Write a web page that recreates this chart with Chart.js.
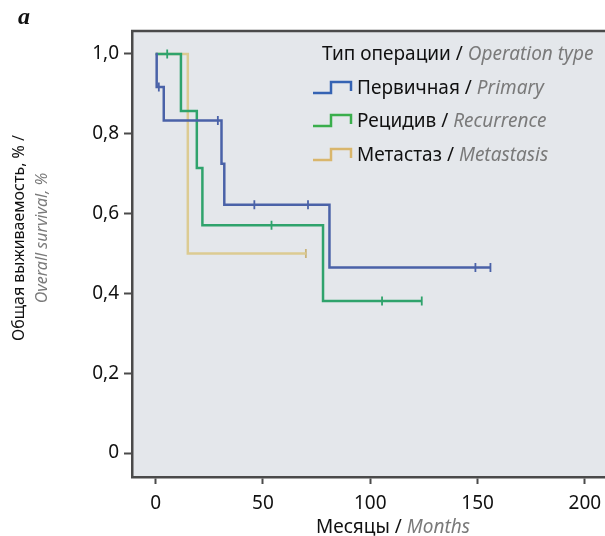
<!DOCTYPE html>
<html>
<head>
<meta charset="utf-8">
<script src="https://cdn.jsdelivr.net/npm/chart.js@4"></script>
<style>
  html, body { margin: 0; padding: 0; background: #fff; overflow: hidden; }
  /* область графика уходит за правый край окна, как на оригинале */
  #wrap { width: 700px; height: 536px; }
</style>
</head>
<body>
<div id="wrap"><canvas id="survivalChart"></canvas></div>
<script>
// Кривые Каплана-Мейера (месяцы / доля выживших)
const primaryTime = [0, 0.5, 3.8, 30.7, 32, 81, 156];
const primarySurv = [1.0, 0.917, 0.833, 0.725, 0.622, 0.465, 0.465];
const primaryCensorTime = [1.5, 29, 46, 71, 149, 156];
const primaryCensorSurv = [0.917, 0.833, 0.622, 0.622, 0.465, 0.465];

const recurrenceTime = [0, 11.8, 19.2, 21.8, 78, 124];
const recurrenceSurv = [1.0, 0.857, 0.714, 0.571, 0.381, 0.381];
const recurrenceCensorTime = [5.4, 54, 105.5, 124];
const recurrenceCensorSurv = [1.0, 0.571, 0.381, 0.381];

const metastasisTime = [0, 15, 70];
const metastasisSurv = [1.0, 0.5, 0.5];
const metastasisCensorTime = [70];
const metastasisCensorSurv = [0.5];

// Оси
const xTickValues = [0, 50, 100, 150, 200];
const yTickValues = [0, 0.2, 0.4, 0.6, 0.8, 1.0];
const yTickLabels = ['0', '0,2', '0,4', '0,6', '0,8', '1,0'];

const FONT = '"Noto Sans", sans-serif';
const AXIS_COLOR = '#4a4a4a';
const GRAY_TEXT = '#7a7a7a';

function toPoints(xs, ys) {
    return xs.map((x, i) => ({ x: x, y: ys[i] }));
}

function curve(label, xs, ys, color) {
    return {
        label: label,
        data: toPoints(xs, ys),
        borderColor: color,
        borderWidth: 2.5,
        stepped: 'before',
        pointRadius: 0,
        fill: false
    };
}

function censors(label, xs, ys, color) {
    return {
        label: label,
        data: toPoints(xs, ys),
        showLine: false,
        borderColor: color,
        backgroundColor: color,
        borderWidth: 1.8,
        pointStyle: 'line',
        rotation: 90,
        pointRadius: 4.5
    };
}

// Текст из нескольких кусков разного стиля
function drawRuns(ctx, runs, x, y, align) {
    let total = 0;
    runs.forEach(r => { ctx.font = r.font; total += ctx.measureText(r.text).width; });
    let cx = align === 'center' ? x - total / 2 : x;
    ctx.textAlign = 'left';
    ctx.textBaseline = 'alphabetic';
    runs.forEach(r => {
        ctx.font = r.font;
        ctx.fillStyle = r.color;
        ctx.fillText(r.text, cx, y);
        cx += ctx.measureText(r.text).width;
    });
}

const legendItems = [
    { ru: 'Первичная / ', en: 'Primary', color: '#3563b3', y: 94 },
    { ru: 'Рецидив / ', en: 'Recurrence', color: '#3aae4c', y: 127 },
    { ru: 'Метастаз / ', en: 'Metastasis', color: '#d9b66c', y: 161 }
];

const decorPlugin = {
    id: 'decor',
    beforeDraw(chart) {
        const ctx = chart.ctx;
        const a = chart.chartArea;
        ctx.save();
        ctx.fillStyle = '#e4e7eb';
        ctx.fillRect(a.left, a.top, a.right - a.left, a.bottom - a.top);
        ctx.restore();
    },
    afterDraw(chart) {
        const ctx = chart.ctx;
        const a = chart.chartArea;
        ctx.save();

        // верхняя рамка
        ctx.strokeStyle = AXIS_COLOR;
        ctx.lineWidth = 2.5;
        ctx.beginPath();
        ctx.moveTo(a.left - 1, a.top);
        ctx.lineTo(a.right, a.top);
        ctx.stroke();

        // буква панели
        ctx.fillStyle = '#111';
        ctx.font = 'italic bold 24px "Liberation Serif", "DejaVu Serif", serif';
        ctx.textBaseline = 'alphabetic';
        ctx.fillText('a', 18, 24);

        // подпись оси X
        drawRuns(ctx, [
            { text: 'Месяцы / ', font: '19px ' + FONT, color: '#111' },
            { text: 'Months', font: 'italic 19px ' + FONT, color: GRAY_TEXT }
        ], 393, 533, 'center');

        // подпись оси Y
        ctx.save();
        ctx.translate(24, 238);
        ctx.rotate(-Math.PI / 2);
        drawRuns(ctx, [
            { text: 'Общая выживаемость, % /', font: '16px ' + FONT, color: '#111' }
        ], 0, 0, 'center');
        ctx.restore();
        ctx.save();
        ctx.translate(47, 238);
        ctx.rotate(-Math.PI / 2);
        drawRuns(ctx, [
            { text: 'Overall survival, %', font: 'italic 16px ' + FONT, color: GRAY_TEXT }
        ], 0, 0, 'center');
        ctx.restore();

        // легенда
        drawRuns(ctx, [
            { text: 'Тип операции / ', font: '19px ' + FONT, color: '#111' },
            { text: 'Operation type', font: 'italic 19px ' + FONT, color: GRAY_TEXT }
        ], 322, 60, 'left');

        legendItems.forEach(item => {
            const cy = item.y - 6;
            ctx.strokeStyle = item.color;
            ctx.lineWidth = 2.5;
            ctx.beginPath();
            ctx.moveTo(313, cy + 5);
            ctx.lineTo(331, cy + 5);
            ctx.lineTo(331, cy - 6);
            ctx.lineTo(351, cy - 6);
            ctx.lineTo(351, cy + 3);
            ctx.stroke();
            drawRuns(ctx, [
                { text: item.ru, font: '19px ' + FONT, color: '#111' },
                { text: item.en, font: 'italic 19px ' + FONT, color: GRAY_TEXT }
            ], 357, item.y, 'left');
        });

        ctx.restore();
    }
};

const BLUE = '#4a62a8';
const GREEN = '#2fa36c';
const TAN = '#dccb92';

new Chart(document.getElementById('survivalChart'), {
    type: 'line',
    data: {
        datasets: [
            curve('Первичная', primaryTime, primarySurv, BLUE),
            censors('Первичная цензур.', primaryCensorTime, primaryCensorSurv, BLUE),
            curve('Рецидив', recurrenceTime, recurrenceSurv, GREEN),
            censors('Рецидив цензур.', recurrenceCensorTime, recurrenceCensorSurv, GREEN),
            curve('Метастаз', metastasisTime, metastasisSurv, TAN),
            censors('Метастаз цензур.', metastasisCensorTime, metastasisCensorSurv, '#c9b47a')
        ]
    },
    options: {
        responsive: true,
        maintainAspectRatio: false,
        animation: false,
        layout: { padding: { top: 31, right: 0, left: 0, bottom: 0 } },
        plugins: {
            legend: { display: false },
            tooltip: { enabled: false }
        },
        scales: {
            x: {
                type: 'linear',
                min: -11,
                max: 250.7,
                afterBuildTicks: s => { s.ticks = xTickValues.map(v => ({ value: v })); },
                afterFit: s => { s.height = 59; },
                grid: {
                    drawOnChartArea: false,
                    drawTicks: true,
                    tickLength: 7,
                    tickColor: AXIS_COLOR,
                    tickWidth: 2
                },
                border: { display: true, color: AXIS_COLOR, width: 2.5 },
                ticks: {
                    padding: 8,
                    color: '#111',
                    font: { family: FONT, size: 19 },
                    maxRotation: 0
                }
            },
            y: {
                type: 'linear',
                min: -0.06,
                max: 1.0575,
                afterBuildTicks: s => { s.ticks = yTickValues.map(v => ({ value: v })); },
                afterFit: s => { s.width = 132; },
                grid: {
                    drawOnChartArea: false,
                    drawTicks: true,
                    tickLength: 8,
                    tickColor: AXIS_COLOR,
                    tickWidth: 2
                },
                border: { display: true, color: AXIS_COLOR, width: 2.5 },
                ticks: {
                    padding: 5,
                    color: '#111',
                    font: { family: FONT, size: 19 },
                    callback: function(value) {
                        const i = yTickValues.indexOf(value);
                        return i >= 0 ? yTickLabels[i] : '';
                    }
                }
            }
        }
    },
    plugins: [decorPlugin]
});
</script>
</body>
</html>
